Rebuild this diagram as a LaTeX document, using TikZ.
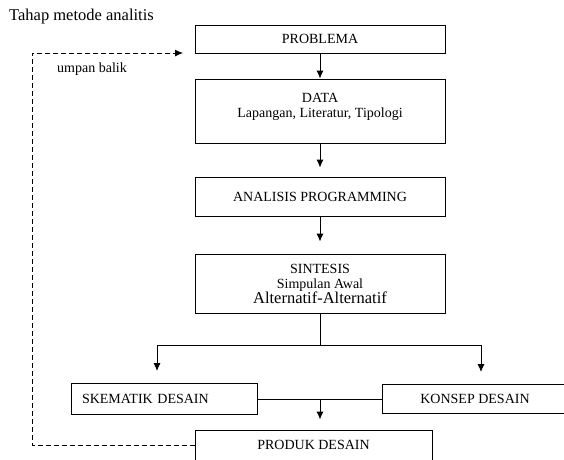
\documentclass[tikz,border=0pt]{standalone}
\usepackage{fontspec}
\setmainfont{Liberation Serif}
\usetikzlibrary{positioning,arrows.meta}

\begin{document}
\begin{tikzpicture}[
    x=1pt,y=-1pt,font=\fontsize{14}{15}\selectfont,
    box/.style={draw,black,line width=0.9pt,inner sep=0pt,minimum width=250pt},
    flow/.style={draw,black,line width=0.9pt,-{Latex[length=8pt,width=7pt]}},
    fback/.style={draw,black,line width=0.9pt,dash pattern=on 5pt off 3pt,-{Latex[length=8pt,width=7pt]}}
    ]
    \useasboundingbox (0,0) rectangle (564,459);
    \node[anchor=west,inner sep=0pt,font=\fontsize{16.5}{18}\selectfont] (judul) at (9,17) {Tahap metode analitis};
    \node[box,minimum height=28pt] (problema) at (320,39) {PROBLEMA};
    \node[box,minimum height=64pt] (data) at (320,111) {};
    \node[align=center,inner sep=0pt,below=15pt of data.north] (datatxt) {DATA\\Lapangan, Literatur, Tipologi};
    \node[box,minimum height=39pt] (analisis) at (320,196.5) {ANALISIS PROGRAMMING};
    \node[box,minimum height=59pt,align=center] (sintesis) at (320,283.5) {SINTESIS\\Simpulan Awal\\{\fontsize{16.5}{18}\selectfont Alternatif-Alternatif}};
    \node[box,minimum width=186pt,minimum height=31pt,text width=164pt,align=left] (skematik) at (164,399) {SKEMATIK DESAIN};
    \node[box,minimum width=186pt,minimum height=29pt] (konsep) at (475,399) {KONSEP DESAIN};
    \node[box,minimum width=237pt,minimum height=30pt] (produk) at (313.5,445) {PRODUK DESAIN};
    \node[anchor=west,inner sep=0pt] (umpan) at (57,69) {umpan balik};
    \coordinate (cabang) at (320,345);
    \coordinate (temu) at (320,399);
    \coordinate (fbsudut) at (32,53);
    \coordinate (fbujung) at (183,53);
    \draw[flow] (problema) -- (data);
    \draw[flow,shorten >=9pt] (data) -- (analisis);
    \draw[flow,shorten >=12pt] (analisis) -- (sintesis);
    \draw[line width=0.9pt] (sintesis.south) -- (cabang);
    \draw[flow,shorten >=12pt] (cabang) -| ([xshift=-7pt]skematik.north);
    \draw[flow,shorten >=12pt] (cabang) -| ([xshift=6pt]konsep.north);
    \draw[line width=0.9pt] (skematik.east) -- (konsep.west);
    \draw[flow,shorten >=10pt] (temu) -- (temu |- produk.north);
    \draw[fback] (produk.west) -| (fbsudut) -- (fbujung);
\end{tikzpicture}
\end{document}
